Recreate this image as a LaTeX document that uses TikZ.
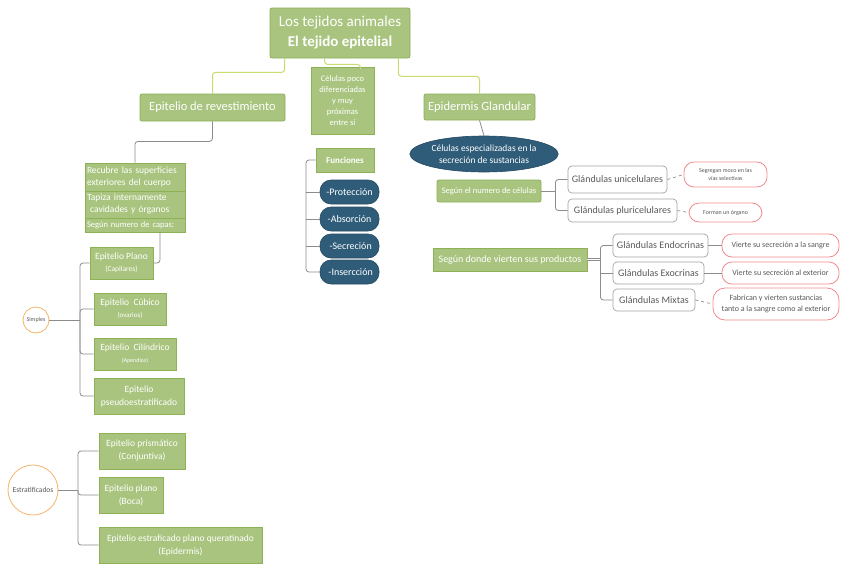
\documentclass[tikz,border=0pt]{standalone}
\usepackage{fontspec}
\setmainfont{Carlito}
\usetikzlibrary{shapes.geometric}
\definecolor{gfill}{HTML}{A9C47F}
\definecolor{gline}{HTML}{8DB255}
\definecolor{tealfill}{HTML}{2F5C79}
\definecolor{tealline}{HTML}{244A63}
\definecolor{greyline}{HTML}{8C8C8C}
\definecolor{greytext}{HTML}{595959}
\definecolor{pinkline}{HTML}{F28B8B}
\definecolor{orangeline}{HTML}{F7B46B}
\definecolor{yline}{HTML}{C6DE6E}
\newcommand\fsz[2]{\fontsize{#1}{#2}\selectfont}
\tikzset{
  gbox/.style={draw=gline, fill=gfill, text=white, line width=0.8pt, rounded corners=2pt, align=center, inner sep=1pt},
  sbox/.style={draw=gline, fill=gfill, text=white, line width=0.8pt, align=left, inner sep=2pt, text width=#1},
  wbox/.style={draw=greyline!80, fill=white, text=greytext, line width=0.7pt, rounded corners=4pt, align=center, inner sep=1pt},
  rbox/.style={draw=pinkline, fill=white, text=greytext, line width=0.8pt, rounded corners=10pt, align=center, inner sep=1pt},
  pill/.style={draw=tealline, fill=tealfill, text=white, line width=0.6pt, rounded corners=11pt, align=center, inner sep=1pt, minimum width=59pt, minimum height=24pt, font=\fsz{10}{12}},
  ocirc/.style={circle, draw=orangeline, fill=white, line width=0.8pt, inner sep=0pt, text=greytext},
  conn/.style={draw=greyline, line width=0.8pt, rounded corners=3pt},
  yconn/.style={draw=yline, line width=1pt, rounded corners=3pt},
  dconn/.style={draw=greyline, line width=0.7pt, dashed}
}
\begin{document}
\begin{tikzpicture}[x=1pt,y=-1pt]
\useasboundingbox[fill=white] (0,0) rectangle (848,573);
% top level
\node[gbox, minimum width=140pt, minimum height=50pt, font=\fsz{15}{20}] (title) at (340,33)
  {Los tejidos animales\\\textbf{El tejido epitelial}};
\node[gbox, minimum width=145pt, minimum height=27pt, font=\fsz{12.5}{15}] (rev) at (212.5,107.5) {Epitelio de revestimiento};
\node[gbox, rounded corners=0pt, minimum width=63pt, minimum height=67pt, font=\fsz{8.5}{11}] (cel) at (342.5,100.5)
  {Células poco\\diferenciadas\\y muy\\próximas\\entre sí};
\node[gbox, minimum width=111pt, minimum height=26pt, font=\fsz{12.5}{15}] (glan) at (479.5,107) {Epidermis Glandular};
\draw[yconn] ([xshift=15pt]title.south west) -- ++(0,14) -| (rev.north);
\draw[yconn] ([xshift=55pt]title.south west) -- ++(0,6) -| ([xshift=-14pt]cel.north east);
\draw[yconn] ([xshift=-12pt]title.south east) -- ++(0,18) -| (glan.north);
% left stack
\node[sbox=96pt, minimum height=28pt, font=\fsz{9.5}{12}] (s1) at (135,177) {Recubre las superficies\\exteriores del cuerpo};
\node[sbox=96pt, minimum height=27pt, font=\fsz{9.5}{12}] (s2) at (135,204.5) {Tapiza internamente\\\ cavidades y órganos};
\node[sbox=96pt, minimum height=14pt, font=\fsz{8.5}{10}] (s3) at (135,225) {Según numero de capas:};
\draw[conn] (rev.south) -- ++(0,20) -| (s1.north);
% simples
\node[gbox, rounded corners=0pt, minimum width=63pt, minimum height=32pt, font=\fsz{9.5}{12}] (plano) at (121.5,263) {Epitelio Plano\\\fsz{7.5}{12}(Capilares)};
\node[gbox, rounded corners=0pt, minimum width=72pt, minimum height=32pt, font=\fsz{9.5}{12}] (cub) at (130,309) {Epitelio\ \ Cúbico\\\fsz{7}{12}(ovarios)};
\node[gbox, rounded corners=0pt, minimum width=82pt, minimum height=32pt, font=\fsz{9.5}{12}] (cil) at (135,354) {Epitelio\ \ Cilíndrico\\\fsz{6}{11}(Apendice)};
\node[gbox, rounded corners=0pt, minimum width=90pt, minimum height=36pt, font=\fsz{9.5}{13}] (pse) at (139,396) {Epitelio\\pseudoestratificado};
\draw[conn] ([xshift=25pt]s3.south) |- (plano.east);
\node[ocirc, minimum size=26pt, font=\fsz{6}{7}] (simp) at (36,320) {Simples};
\coordinate (sb) at (80,320);
\draw[conn] (simp.east) -- (sb);
\draw[conn] (plano.west) -| (sb);
\draw[conn] (cub.west) -| (sb);
\draw[conn] (cil.west) -| (sb);
\draw[conn] (pse.west) -| (sb);
% estratificados
\node[gbox, rounded corners=0pt, minimum width=86pt, minimum height=36pt, font=\fsz{9.5}{13}] (pri) at (142,451) {Epitelio prismático\\(Conjuntiva)};
\node[gbox, rounded corners=0pt, minimum width=64pt, minimum height=36pt, font=\fsz{9.5}{13}] (pla) at (131,495) {Epitelio plano\\(Boca)};
\node[gbox, rounded corners=0pt, minimum width=163pt, minimum height=36pt, font=\fsz{9.5}{13}] (que) at (180.5,545) {Epitelio estraficado plano queratinado\\(Epidermis)};
\node[ocirc, minimum size=50pt, font=\fsz{7.5}{9}] (estr) at (33,490) {Estratificados};
\coordinate (eb) at (78,490);
\draw[conn] (estr.east) -- (eb);
\draw[conn] (pri.west) -| (eb);
\draw[conn] (pla.west) -| (eb);
\draw[conn] (que.west) -| (eb);
% funciones
\node[gbox, rounded corners=0pt, minimum width=58pt, minimum height=24pt, font=\fsz{9}{11}\bfseries] (fun) at (345,160) {Funciones};
\node[pill] (pro) at (349.5,192) {-Protección};
\node[pill] (abs) at (349.5,219) {-Absorción};
\node[pill] (sec) at (349.5,246) {\ -Secreción};
\node[pill] (ins) at (349.5,272) {\ -Insercción};
\coordinate (fb) at (306,272);
\draw[conn] (fun.west) -| (fb) -- (ins.west);
\draw[conn] (fb |- pro.west) -- (pro.west);
\draw[conn] (fb |- abs.west) -- (abs.west);
\draw[conn] (fb |- sec.west) -- (sec.west);
% glandular
\node[ellipse, draw=tealline, fill=tealfill, text=white, line width=0.6pt, minimum width=132pt, minimum height=36pt, inner sep=0pt, align=center, font=\fsz{9.5}{12}] (ell) at (484,154)
  {Células especializadas en la\\secreción de sustancias};
\draw[conn] (glan.south) -- (ell.north);
\node[gbox, minimum width=104pt, minimum height=22pt, font=\fsz{8.5}{10}] (num) at (489,191) {Según el numero de células};
\node[wbox, minimum width=99pt, minimum height=27pt, font=\fsz{10}{12}] (uni) at (617.5,179.5) {Glándulas unicelulares};
\node[wbox, minimum width=109pt, minimum height=23pt, font=\fsz{10}{12}] (plu) at (622.5,210.5) {Glándulas pluricelulares};
\node[rbox, minimum width=83pt, minimum height=25pt, font=\fsz{6}{8.5}] (seg) at (725.5,174.5) {Segregan moco en las\\vías selectivas};
\node[rbox, minimum width=73pt, minimum height=19pt, font=\fsz{6}{8}] (form) at (725.5,212.5) {Forman un órgano};
\coordinate (nb) at ([xshift=14pt]num.east);
\draw[conn] (num.east) -- (nb);
\draw[conn] (uni.west) -| (nb) |- (plu.west);
\draw[dconn] (uni.east) -- (seg.west);
\draw[dconn] (plu.east) -- (form.west);
% vierten
\node[gbox, rounded corners=0pt, minimum width=154pt, minimum height=23pt, font=\fsz{10}{12}] (vie) at (510,259.5) {Según donde vierten sus productos};
\node[wbox, minimum width=95pt, minimum height=23pt, font=\fsz{10}{12}] (endo) at (660.5,245.5) {Glándulas Endocrinas};
\node[wbox, minimum width=91pt, minimum height=22pt, font=\fsz{10}{12}] (exo) at (658.5,273) {Glándulas Exocrinas};
\node[wbox, minimum width=82pt, minimum height=22pt, font=\fsz{10}{12}] (mix) at (654,300) {Glándulas Mixtas};
\node[rbox, minimum width=117pt, minimum height=23pt, font=\fsz{8}{10}] (vsan) at (780.5,245.5) {Vierte su secreción a la sangre};
\node[rbox, minimum width=117pt, minimum height=22pt, font=\fsz{8}{10}] (vext) at (780.5,273) {Vierte su secreción al exterior};
\node[rbox, rounded corners=12pt, minimum width=126pt, minimum height=32pt, font=\fsz{8}{11}] (fab) at (776,304) {Fabrican y vierten sustancias\\tanto a la sangre como al exterior};
\coordinate (vb) at ([xshift=13pt]vie.east);
\draw[draw=greyline, line width=0.6pt, double, double distance=1.2pt] (vie.east) -- (vb);
\draw[conn] (endo.west) -| (vb) |- (mix.west);
\draw[conn] (vb |- exo.west) -- (exo.west);
\draw[conn] (endo.east) -- (vsan.west);
\draw[conn] (exo.east) -- (vext.west);
\draw[dconn] (mix.east) -- (fab.west);
\end{tikzpicture}
\end{document}
